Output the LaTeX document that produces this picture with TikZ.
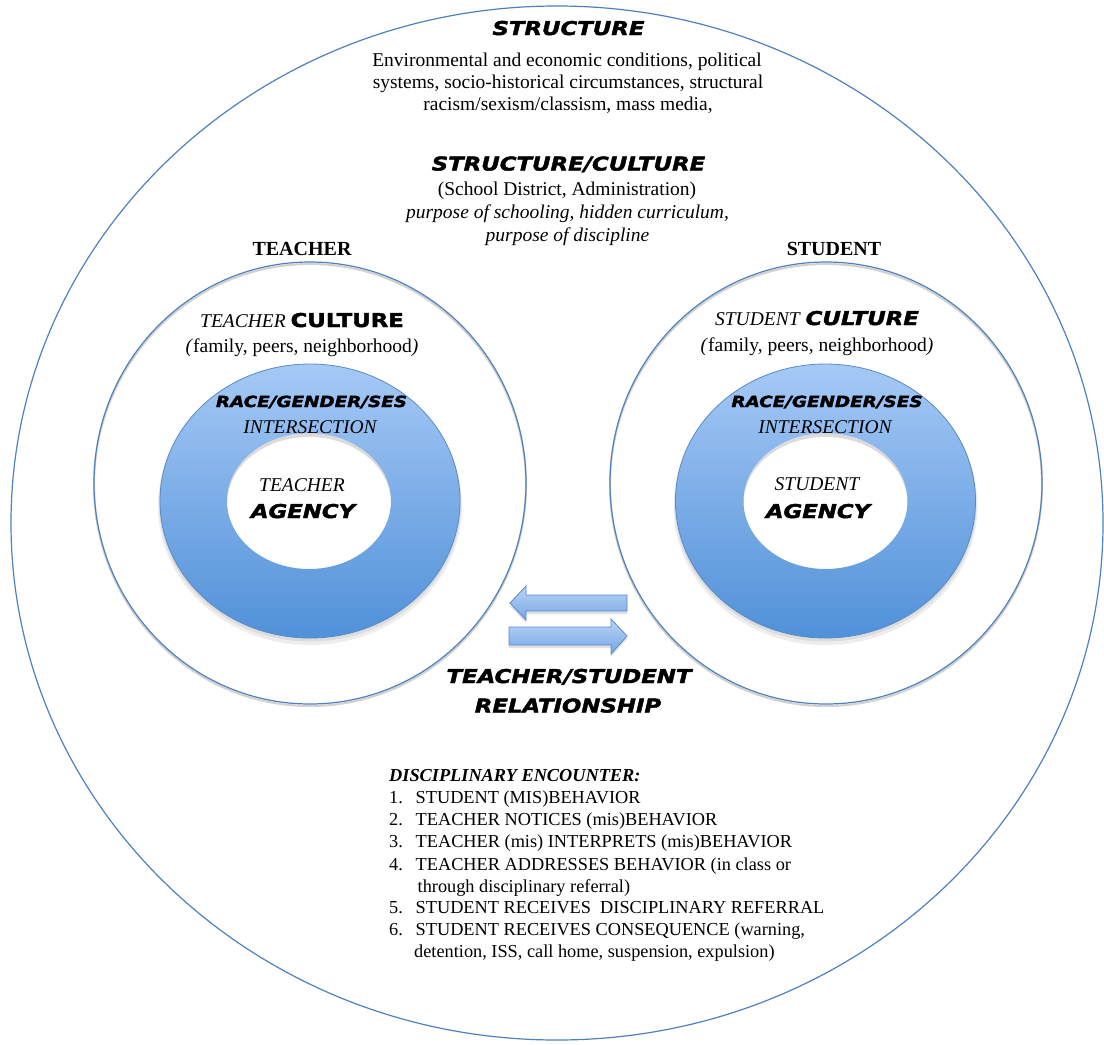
\documentclass[tikz,border=0pt]{standalone}
\usepackage{fontspec}
\setmainfont{Liberation Serif}
\newfontfamily\heavyfont[FakeStretch=1.2,FakeBold=2.2]{DejaVu Sans}
\definecolor{cblue}{RGB}{79,129,189}
\definecolor{ringtop}{RGB}{166,201,246}
\definecolor{ringbot}{RGB}{80,145,216}
\definecolor{ringedge}{RGB}{88,138,200}
\definecolor{arrtop}{RGB}{186,213,246}
\definecolor{arrbot}{RGB}{118,166,228}
\definecolor{arredge}{RGB}{88,138,205}
\begin{document}
\begin{tikzpicture}[x=1pt,y=-1pt,
  circ/.style={draw=cblue, line width=1.2pt},
  circshadow/.style={draw=black!18, line width=2pt},
  serif/.style={inner sep=0pt, anchor=base, font=\fontsize{19.5}{22}\selectfont},
  serifit/.style={inner sep=0pt, anchor=base, font=\fontsize{19.5}{22}\selectfont\itshape},
  label/.style={inner sep=0pt, anchor=base, font=\fontsize{20}{22}\selectfont\bfseries},
  heavy/.style={inner sep=0pt, anchor=base, font=\heavyfont\bfseries\itshape\fontsize{19}{22}\selectfont},
  heavysmall/.style={inner sep=0pt, anchor=base, font=\heavyfont\bfseries\itshape\fontsize{15.3}{18}\selectfont},
  mixed/.style={inner sep=0pt, anchor=base, font=\fontsize{19.5}{22}\selectfont},
  listtxt/.style={inner sep=0pt, anchor=base west, font=\fontsize{18.3}{22}\selectfont},
  listhead/.style={inner sep=0pt, anchor=base west, font=\fontsize{18.3}{22}\selectfont\bfseries\itshape},
  blockarrow/.style={top color=arrtop, bottom color=arrbot, draw=arredge, line width=0.8pt, line join=miter}
]
\useasboundingbox (0,0) rectangle (1104,1045);
\fill[white] (0,0) rectangle (1104,1045);

% outer structure circle
\draw[circ] (557,523) ellipse [x radius=546, y radius=517];

% culture circles
\draw[circshadow] (310,485) ellipse [x radius=216, y radius=221];
\draw[circ] (310,483) ellipse [x radius=216, y radius=221];
\draw[circshadow] (826,485) ellipse [x radius=216, y radius=221];
\draw[circ] (826,483) ellipse [x radius=216, y radius=221];

% rings
\foreach \cx/\ix in {310/309, 825.5/825.5} {
  \fill[black, opacity=0.07] (\cx,506) ellipse [x radius=152, y radius=139];
  \fill[black, opacity=0.07] (\cx,503.5) ellipse [x radius=151, y radius=138];
  \fill[black!14] (\ix,501) ellipse [x radius=82, y radius=68];
  \fill[white] (\ix,504) ellipse [x radius=82, y radius=67];
  \shade[top color=ringtop, bottom color=ringbot, even odd rule]
    (\cx,501) ellipse [x radius=150, y radius=137]
    (\ix,501) ellipse [x radius=82, y radius=68];
  \draw[ringedge, line width=0.8pt] (\cx,501) ellipse [x radius=150, y radius=137];
}

% block arrows
\fill[black, opacity=0.12] (627,598) -- (526,598) -- (526,589) -- (510,606) -- (526,623) -- (526,614) -- (627,614) -- cycle;
\shade[blockarrow] (627,595) -- (526,595) -- (526,586) -- (510,603) -- (526,620) -- (526,611) -- (627,611) -- cycle;
\fill[black, opacity=0.12] (509,630) -- (611,630) -- (611,622) -- (627,639) -- (611,657) -- (611,648) -- (509,648) -- cycle;
\shade[blockarrow] (509,627) -- (611,627) -- (611,619) -- (627,636) -- (611,654) -- (611,645) -- (509,645) -- cycle;

% structure texts
\node[heavy] (structure) at (568.5,35) {STRUCTURE};
\node[serif] (env1) at (567,66.5) {Environmental and economic conditions, political};
\node[serif] (env2) at (568,88.5) {systems, socio-historical circumstances, structural};
\node[serif] (env3) at (568,110.5) {racism/sexism/classism, mass media,};

\node[heavy] (sc) at (568.5,170.5) {STRUCTURE/CULTURE};
\node[serif] (district) at (567,195.5) {(School District, Administration)};
\node[serifit] (purpose1) at (567.5,218.5) {purpose of schooling, hidden curriculum,};
\node[serifit] (purpose2) at (567.5,241.5) {purpose of discipline};

\node[label] (teacherlbl) at (302,255) {TEACHER};
\node[label] (studentlbl) at (834,255) {STUDENT};

% teacher side
\node[mixed] (tculture) at (302,327) {\textit{TEACHER} {\heavyfont\bfseries\fontsize{19}{22}\selectfont CULTURE}};
\node[serif] (tfamily) at (302,352) {\textit{(}family, peers, neighborhood\textit{)}};
\node[heavysmall] (trace) at (311.5,407) {RACE/GENDER/SES};
\node[serifit] (tinter) at (310,433) {INTERSECTION};
\node[serifit] (tinner) at (302,491) {TEACHER};
\node[heavy] (tagency) at (303,518) {AGENCY};

% student side
\node[mixed] (sculture) at (817,325) {\textit{STUDENT} {\heavyfont\bfseries\itshape\fontsize{19}{22}\selectfont CULTURE}};
\node[serif] (sfamily) at (817,351) {\textit{(}family, peers, neighborhood\textit{)}};
\node[heavysmall] (srace) at (827,407) {RACE/GENDER/SES};
\node[serifit] (sinter) at (825,433) {INTERSECTION};
\node[serifit] (sinner) at (817,490) {STUDENT};
\node[heavy] (sagency) at (818,518) {AGENCY};

% relationship
\node[heavy] (rel1) at (569,683) {TEACHER/STUDENT};
\node[heavy] (rel2) at (568,712.5) {RELATIONSHIP};

% disciplinary encounter
\node[listhead] (dhead) at (389,781) {DISCIPLINARY ENCOUNTER:};
\node[listtxt] (n1) at (389,803) {1.};
\node[listtxt] (l1) at (415.5,803) {STUDENT (MIS)BEHAVIOR};
\node[listtxt] (n2) at (389,825.5) {2.};
\node[listtxt] (l2) at (415.5,825.5) {TEACHER NOTICES (mis)BEHAVIOR};
\node[listtxt] (n3) at (389,847.5) {3.};
\node[listtxt] (l3) at (415.5,847.5) {TEACHER (mis) INTERPRETS (mis)BEHAVIOR};
\node[listtxt] (n4) at (389,870) {4.};
\node[listtxt] (l4) at (415.5,870) {TEACHER ADDRESSES BEHAVIOR (in class or};
\node[listtxt] (l4b) at (417.5,892) {through disciplinary referral)};
\node[listtxt] (n5) at (389,913.5) {5.};
\node[listtxt] (l5) at (415.5,913.5) {STUDENT RECEIVES\ \ DISCIPLINARY REFERRAL};
\node[listtxt] (n6) at (389,935.5) {6.};
\node[listtxt] (l6) at (415.5,935.5) {STUDENT RECEIVES CONSEQUENCE (warning,};
\node[listtxt] (l6b) at (414,957.5) {detention, ISS, call home, suspension, expulsion)};
\end{tikzpicture}
\end{document}
